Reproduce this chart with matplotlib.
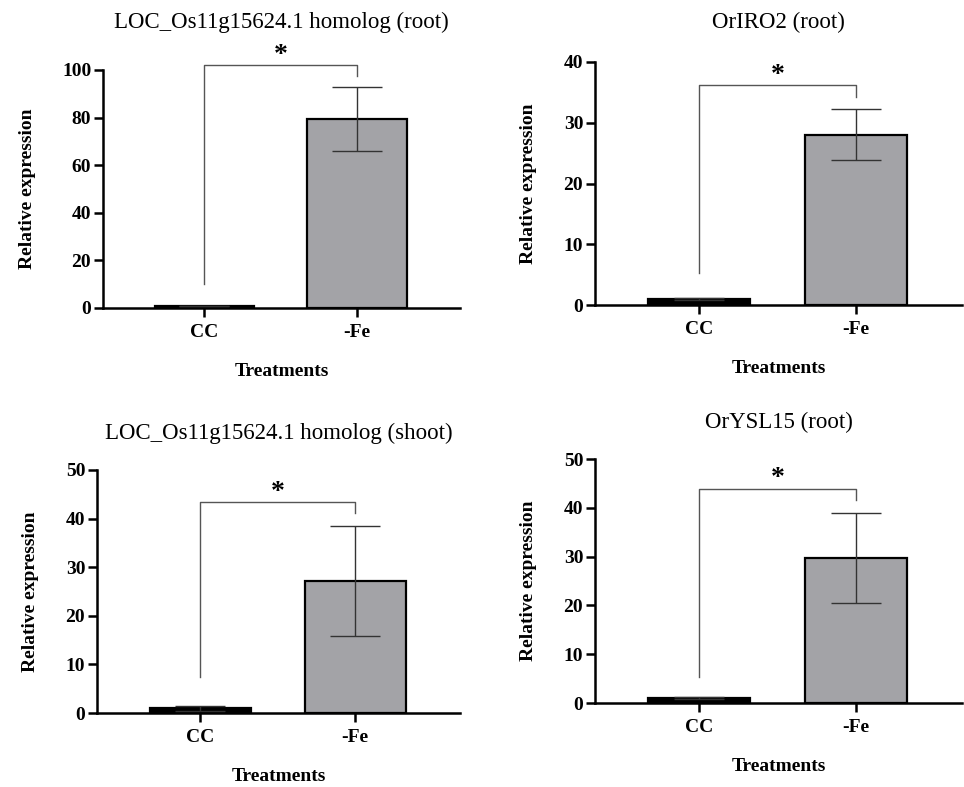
import matplotlib
matplotlib.use("Agg")
import matplotlib.pyplot as plt

plt.rcParams['font.family'] = ['Liberation Serif', 'DejaVu Serif']

# data
treatments = ["CC", "-Fe"]
titles = ["LOC_Os11g15624.1 homolog (root)", "OrIRO2 (root)",
          "LOC_Os11g15624.1 homolog (shoot)", "OrYSL15 (root)"]
means = [[0.8, 79.3], [1.0, 28.0], [1.0, 27.1], [1.0, 29.7]]
errors = [[0.1, 13.5], [0.1, 4.2], [0.5, 11.3], [0.15, 9.2]]
y_max = [100, 40, 50, 50]
y_step = [20, 10, 10, 10]
# significance bracket: top, left leg end, right leg end
bracket_top = [102, 36.2, 43.4, 43.9]
bracket_left = [10, 5.3, 7.4, 5.3]
bracket_right = [97.5, 34.2, 41.2, 41.6]

W, H = 964, 787
fig = plt.figure(figsize=(W / 100, H / 100), dpi=100)

# axes boxes in pixels: left, right, y of zero line, y of top
boxes = [(103, 460, 308, 70), (595, 962, 305, 62),
         (97, 460, 713, 470), (595, 962, 703, 459)]
title_y = [22, 22, 433, 422]

for i in range(4):
    l, r, y0, yt = boxes[i]
    ax = fig.add_axes([l / W, 1 - y0 / H, (r - l) / W, (y0 - yt) / H])
    x = [0, 1]
    ax.bar(x, means[i], width=0.65, color=["black", "#a3a3a7"],
           edgecolor="black", linewidth=1.6, zorder=2)
    ax.errorbar(x, means[i], yerr=errors[i], fmt="none", ecolor="#333333",
                elinewidth=1.0, capsize=18, capthick=1.0, zorder=3)
    ax.set_xlim(-0.665, 1.675)
    ax.set_ylim(0, y_max[i])
    ax.set_yticks(range(0, y_max[i] + 1, y_step[i]))
    ax.set_xticks(x)
    ax.set_xticklabels(treatments)
    for s in ["top", "right"]:
        ax.spines[s].set_visible(False)
    for s in ["left", "bottom"]:
        ax.spines[s].set_linewidth(1.8)
    ax.tick_params(direction="out", length=6.5, width=1.8, labelsize=14, pad=2)
    ax.tick_params(axis="x", pad=5)
    for lab in ax.get_xticklabels() + ax.get_yticklabels():
        lab.set_fontweight("bold")
    ax.set_xlabel("Treatments", fontsize=14, fontweight="bold", labelpad=16)
    ax.set_ylabel("Relative expression", fontsize=14, fontweight="bold", labelpad=19)

    # significance bracket
    ax.plot([0, 0, 1, 1], [bracket_left[i], bracket_top[i], bracket_top[i], bracket_right[i]],
            color="#555555", lw=1.0, clip_on=False, zorder=4)
    ax.text(0.5, bracket_top[i] - y_max[i] * 0.01, "*", ha="center", va="bottom",
            fontsize=20, fontweight="bold", clip_on=False)

    fig.text((l + r) / 2 / W, 1 - title_y[i] / H, titles[i], ha="center", va="center",
             fontsize=16.5)

fig.savefig("out.png", dpi=100)
